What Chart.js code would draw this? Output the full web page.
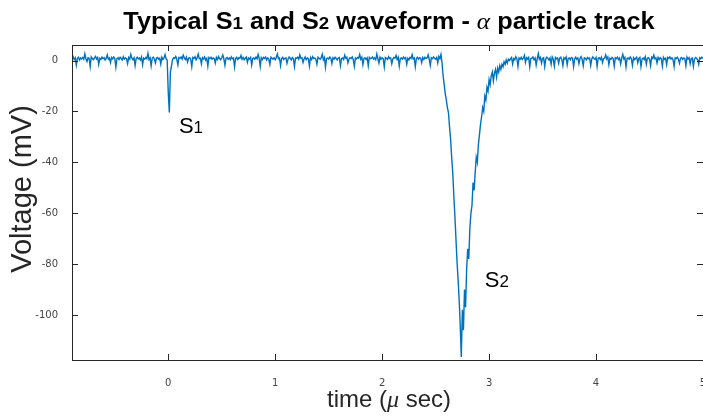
<!DOCTYPE html>
<html>
<head>
<meta charset="utf-8">
<script src="https://cdn.jsdelivr.net/npm/chart.js@4"></script>
<style>
  html, body { margin: 0; padding: 0; background: #fff; }
  canvas { display: block; }
</style>
</head>
<body>
<canvas id="waveChart" width="703" height="416"></canvas>
<script>
// sampled trace: first sample time and sample period (micro seconds)
const tStart = -0.9;
const dt = 0.01;

// voltage samples in mV, one row = 0.1 us
const voltages = [
  0.8, 1.5, 0.4, 1.1, -1.8, 0.9, 1.3, 0.2, 1.0, 0.6,
  1.2, 0.5, 2.6, 0.7, -0.4, 1.1, 0.9, -2.3, 1.4, 0.8,
  0.3, 1.0, 1.6, 0.6, 1.2, -1.5, 0.9, 0.4, 1.3, 0.7,
  1.1, 0.2, 0.8, 2.2, 0.5, 1.0, -0.8, 1.2, 0.6, 1.4,
  0.9, -2.6, 0.7, 1.1, 0.4, 1.3, 0.8, 0.2, 1.5, 0.6,
  1.0, 0.7, -1.2, 1.2, 0.5, 2.4, 0.9, 0.3, 1.1, -2.0,
  0.8, 1.3, 0.6, 1.0, 0.2, 1.4, -1.6, 0.9, 0.5, 1.2,
  0.7, 2.8, 0.4, 1.1, -2.1, 0.9, 1.3, 0.6, -0.9, 1.0,
  1.2, 0.5, 0.9, -1.4, 1.3, 0.4, 1.0, 2.3, 0.6, 0.2,
  -12.5, -20.4, -4.5, -2.2, 0.3, 1.1, 0.8, 1.6, 0.5, -1.7,
  1.2, 0.9, 1.4, 0.6, 2.1, 1.0, 0.4, 1.3, -0.6, 0.9,
  1.1, 0.5, -2.4, 1.2, 0.8, 1.5, 0.3, 1.0, 2.5, 0.7,
  0.9, -1.3, 1.1, 0.6, 1.4, 0.2, 0.9, -2.2, 1.2, 0.8,
  1.3, 0.5, 1.0, 0.7, -1.0, 1.2, 0.4, 1.6, 0.8, 0.3,
  1.1, 2.2, 0.6, -1.9, 0.9, 1.2, 0.5, 1.0, 0.3, 1.4,
  0.7, 1.0, -2.5, 0.8, 1.3, 0.4, 1.1, 0.9, 2.0, 0.5,
  1.2, 0.3, 0.9, 1.4, -0.7, 1.0, 0.6, 1.2, -1.8, 0.8,
  1.0, 0.5, 1.3, 0.7, 2.4, 0.9, -2.3, 1.1, 0.4, 1.2,
  0.8, 1.4, 0.2, 1.0, 0.6, -1.5, 1.3, 0.9, 0.5, 1.1,
  0.3, 1.2, 2.6, 0.7, 1.0, -2.0, 0.8, 1.3, 0.4, 0.9,
  1.1, -1.1, 0.6, 1.4, 0.9, 0.2, 1.2, 0.7, -2.4, 1.0,
  0.8, 1.3, 0.5, 2.2, 0.9, 1.1, -0.8, 0.6, 1.4, 0.3,
  1.0, 0.7, -2.2, 1.2, 0.4, 1.5, 0.8, 1.0, 0.6, -1.4,
  1.3, 0.9, 0.5, 1.1, 2.5, 0.3, 1.2, -2.6, 0.8, 1.0,
  0.6, 1.4, 0.9, -1.2, 1.1, 0.5, 1.3, 0.8, 0.2, 1.0,
  1.2, -2.0, 0.7, 1.0, 0.4, 2.1, 0.9, 1.3, -0.9, 0.6,
  1.1, 0.8, 1.4, 0.3, -2.3, 1.0, 0.6, 1.2, 0.9, 2.4,
  0.5, 1.3, -1.6, 0.8, 1.1, 0.4, 1.0, -2.1, 1.2, 0.7,
  0.9, 1.4, 0.6, 1.0, 0.3, 2.6, 0.8, -1.0, 1.3, 0.5,
  1.1, 0.7, -2.5, 1.2, 0.9, 0.4, 1.5, 0.8, 1.0, -1.3,
  0.6, 1.2, 0.9, 2.0, 0.4, 1.3, -2.2, 0.8, 1.0, 0.5,
  1.4, 0.7, 1.1, -1.5, 0.9, 0.3, 1.2, 0.8, 2.3, 0.6,
  1.0, -2.4, 0.8, 1.3, 0.5, 1.1, 0.9, -0.8, 1.2, 0.4,
  1.3, 0.8, 1.0, 2.2, 0.6, -1.9, 1.1, 0.7, 1.4, 0.9,
  0.5, 1.2, -1.0, 1.6, 0.8, 2.4, -1.0, -6.0, -9.5, -13.0,
  -15.5, -18.5, -20.5, -26.0, -31.0, -38.0, -44.0, -53.0, -61.0, -70.0,
  -79.0, -86.0, -94.0, -104.0, -116.5, -98.0, -106.0, -90.0, -97.0, -82.0,
  -74.0, -78.0, -66.0, -60.0, -57.0, -48.0, -51.0, -44.0, -38.0, -40.0,
  -33.0, -29.0, -25.0, -22.0, -18.5, -20.0, -14.0, -15.5, -10.5, -12.0,
  -7.5, -9.5, -6.0, -4.5, -8.0, -5.0, -3.5, -6.5, -3.0, -4.5,
  -2.0, -3.5, -1.5, -2.5, -0.5, -1.5, 0.2, -1.0, 0.5, 0.0,
  0.6, 1.2, -1.4, 0.8, 0.3, 1.5, 0.7, -2.3, 1.0, 0.5,
  1.3, 0.4, 0.9, 2.0, -0.7, 1.1, 0.6, 1.2, -2.5, 0.8,
  0.9, 1.4, 0.3, 1.0, -1.8, 0.7, 2.7, 0.5, 1.2, -1.0,
  0.8, 1.1, -2.4, 0.6, 1.3, 0.9, 0.2, 1.0, -1.5, 1.4,
  0.5, -2.2, 1.2, 0.7, 1.0, -1.1, 0.9, 1.3, 0.4, -2.0,
  1.1, 0.6, 1.4, -1.7, 0.8, 1.0, 0.3, 1.2, 0.9, -2.4,
  0.7, 1.3, 0.5, 1.0, -1.2, 0.8, 1.5, 0.4, -2.1, 1.1,
  0.9, 0.3, 1.2, 0.7, 1.0, -1.9, 0.6, 1.4, 0.8, 0.5,
  1.2, -2.3, 0.9, 1.1, 0.4, 1.3, -0.8, 0.7, 1.0, 2.2,
  0.6, 1.4, -1.6, 0.9, 0.5, 1.2, 0.8, -2.2, 1.1, 0.7,
  1.3, 0.4, 1.0, -1.3, 0.9, 2.4, 0.6, 1.2, -2.5, 0.8,
  1.0, 0.5, 1.4, 0.7, -1.9, 1.1, 0.3, 0.9, 1.3, -0.9,
  0.8, 1.2, -2.4, 0.6, 1.0, 0.4, 1.5, -1.4, 0.9, 1.1,
  0.5, -2.0, 1.3, 0.8, 2.1, 0.7, 1.0, -1.0, 1.2, 0.4,
  1.1, 0.7, -2.2, 1.3, 0.5, 0.9, -1.6, 1.2, 0.8, 1.4,
  0.6, 1.0, 0.3, -2.4, 1.1, 0.8, 1.3, 0.5, -1.1, 0.9,
  1.2, 0.4, 1.0, 0.7, -2.0, 1.4, 0.6, 1.1, -1.3, 0.8,
  1.0, -2.3, 0.5, 1.2, 0.9, 0.3, -1.5, 1.1, 0.7, 1.3,
  0.8
];

// axis limits and ticks
const xRange = [-0.9, 5];
const yRange = [-117.7, 6.1];
const xStep = 1;
const yStep = 20;

// peak labels, placed in data coordinates (left / baseline of text)
const peakNames = ['S', 'S'];
const peakIndex = ['1', '2'];
const peakTimes = [0.1, 2.96];
const peakVolts = [-28.5, -89.0];

const axisColor = '#262626';
const traceColor = '#0072BD';
const sans = '"Liberation Sans", Arial, sans-serif';
const serif = '"Liberation Serif", serif';

// draws a run of [text, font] parts from x on baseline y, optionally stretched
function drawParts(ctx, parts, x, y, align, stretch = 1) {
    let total = 0;
    parts.forEach(p => { ctx.font = p[1]; total += ctx.measureText(p[0]).width; });
    ctx.save();
    ctx.translate(align === 'center' ? x - total * stretch / 2 : x, y);
    ctx.scale(stretch, 1);
    ctx.textAlign = 'left';
    ctx.textBaseline = 'alphabetic';
    let cx = 0;
    parts.forEach(p => {
        ctx.font = p[1];
        ctx.fillText(p[0], cx, 0);
        cx += ctx.measureText(p[0]).width;
    });
    ctx.restore();
}

const frameAndText = {
    id: 'frameAndText',
    afterDatasetsDraw(chart) {
        const { ctx, chartArea: a, scales } = chart;
        ctx.save();

        // box with inward ticks on all four sides
        ctx.strokeStyle = axisColor;
        ctx.lineWidth = 1;
        ctx.strokeRect(a.left + 0.5, a.top + 0.5, a.right - a.left, a.bottom - a.top);
        ctx.beginPath();
        scales.x.ticks.forEach(t => {
            const px = Math.round(scales.x.getPixelForValue(t.value)) + 0.5;
            ctx.moveTo(px, a.bottom); ctx.lineTo(px, a.bottom - 6);
            ctx.moveTo(px, a.top); ctx.lineTo(px, a.top + 6);
        });
        scales.y.ticks.forEach(t => {
            const py = Math.round(scales.y.getPixelForValue(t.value)) + 0.5;
            ctx.moveTo(a.left, py); ctx.lineTo(a.left + 6, py);
            ctx.moveTo(a.right, py); ctx.lineTo(a.right - 6, py);
        });
        ctx.stroke();

        ctx.fillStyle = '#000';
        const bold = 'bold 23px ' + sans;
        const boldSmall = 'bold 17px ' + sans;
        drawParts(ctx, [
            ['Typical S', bold], ['1', boldSmall], [' and S', bold], ['2', boldSmall],
            [' waveform - ', bold], ['\u03b1', 'italic 23px ' + serif],
            [' particle track', bold]
        ], 389, 29, 'center', 1.1);

        // axis titles
        ctx.fillStyle = axisColor;
        drawParts(ctx, [
            ['time (', '24px ' + sans],
            ['\u03bc', 'italic 24px ' + serif],
            [' sec)', '24px ' + sans]
        ], 389, 407, 'center');
        ctx.save();
        ctx.translate(31, 189);
        ctx.rotate(-Math.PI / 2);
        drawParts(ctx, [['Voltage (mV)', '29px ' + sans]], 0, 0, 'center');
        ctx.restore();

        // S1 / S2 labels
        ctx.fillStyle = '#000';
        peakNames.forEach((name, i) => {
            drawParts(ctx, [
                [name, '22px ' + sans],
                [peakIndex[i], '17px ' + sans]
            ], scales.x.getPixelForValue(peakTimes[i]), scales.y.getPixelForValue(peakVolts[i]), 'left');
        });

        ctx.restore();
    }
};

document.addEventListener('DOMContentLoaded', () => {
    const points = voltages.map((v, i) => ({ x: tStart + i * dt, y: v }));
    const tickFont = { family: '"DejaVu Sans", sans-serif', size: 10 };

    new Chart(document.getElementById('waveChart').getContext('2d'), {
        type: 'line',
        data: {
            datasets: [{
                data: points,
                borderColor: traceColor,
                borderWidth: 1.4,
                pointRadius: 0,
                tension: 0
            }]
        },
        options: {
            responsive: false,
            animation: false,
            devicePixelRatio: 1,
            layout: { padding: { top: 45, left: 0, right: 0, bottom: 0 } },
            plugins: { legend: { display: false }, tooltip: { enabled: false } },
            scales: {
                x: {
                    type: 'linear',
                    min: xRange[0],
                    max: xRange[1],
                    afterFit: s => { s.height = 56; s.paddingLeft = 0; s.paddingRight = 0; },
                    grid: { display: false },
                    border: { display: false },
                    ticks: { stepSize: xStep, includeBounds: false, autoSkip: false, maxRotation: 0,
                             padding: 9, color: '#444', font: tickFont }
                },
                y: {
                    type: 'linear',
                    min: yRange[0],
                    max: yRange[1],
                    afterFit: s => { s.width = 72; s.paddingTop = 0; s.paddingBottom = 0; },
                    grid: { display: false },
                    border: { display: false },
                    ticks: { stepSize: yStep, includeBounds: false, padding: 6, color: '#444', font: tickFont }
                }
            }
        },
        plugins: [frameAndText]
    });
});
</script>
</body>
</html>
